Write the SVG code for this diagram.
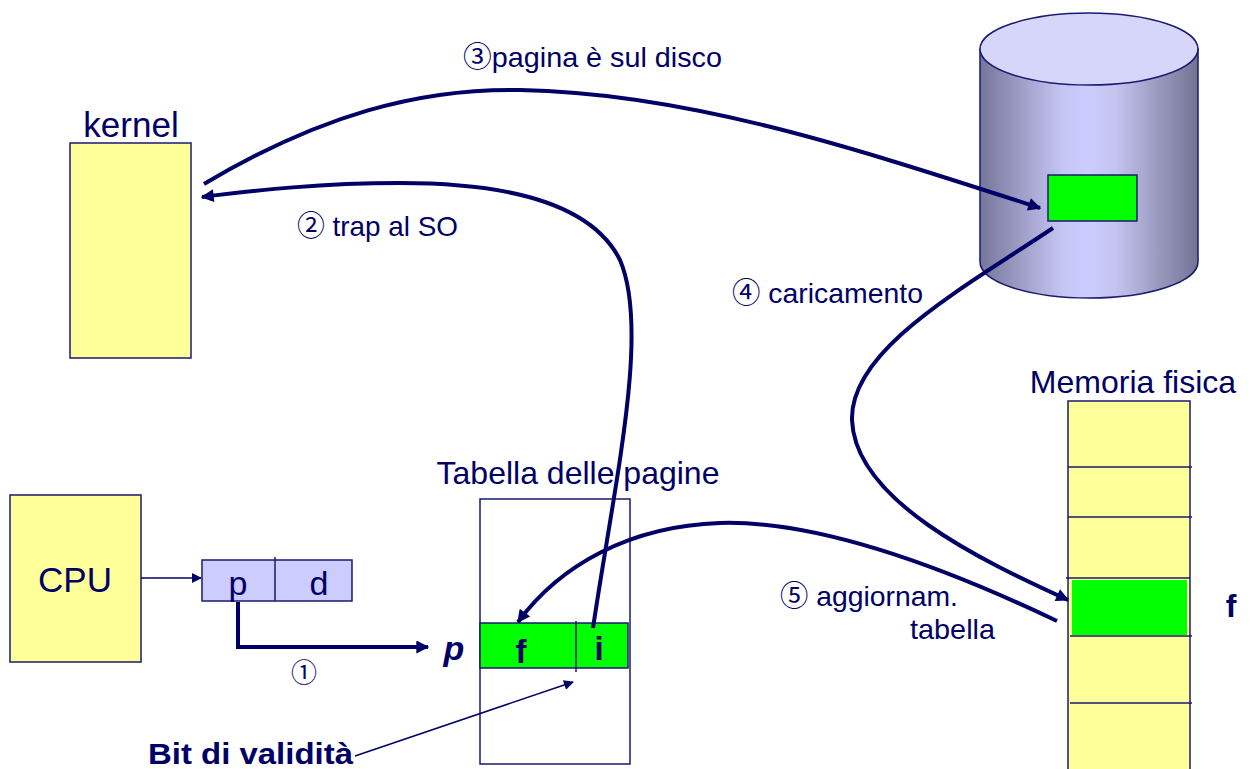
<svg xmlns="http://www.w3.org/2000/svg" width="1250" height="769" viewBox="0 0 1250 769">
<defs>
<style>
.t{font-family:"Liberation Sans",Arial,"Noto Sans CJK JP",sans-serif;fill:#000066}
.b{font-weight:bold}
.box{stroke:#1a1a70;stroke-width:1.5}
.thick{fill:none;stroke:#000066;stroke-width:4}
.thin{fill:none;stroke:#000066;stroke-width:1.5}
</style>
<linearGradient id="cyl" x1="0" y1="0" x2="1" y2="0">
<stop offset="0" stop-color="#76769a"/>
<stop offset="0.38" stop-color="#c6c6f4"/>
<stop offset="0.5" stop-color="#ccccff"/>
<stop offset="0.62" stop-color="#c4c4f0"/>
<stop offset="1" stop-color="#737393"/>
</linearGradient>
<marker id="ab" viewBox="0 0 10 10" refX="9" refY="5" markerWidth="17" markerHeight="13" markerUnits="userSpaceOnUse" orient="auto"><path d="M0,0 L10,5 L0,10 z" fill="#000066"/></marker>
<marker id="as" viewBox="0 0 10 10" refX="9" refY="5" markerWidth="13" markerHeight="10" markerUnits="userSpaceOnUse" orient="auto"><path d="M0,0 L10,5 L0,10 z" fill="#000066"/></marker>
</defs>

<g id="kernel">
<rect class="box" x="70" y="143" width="121" height="215" fill="#ffff99"/>
<text class="t" x="131" y="137" font-size="35" text-anchor="middle">kernel</text>
</g>

<g id="cpu">
<rect class="box" x="10" y="495" width="131" height="167" fill="#ffff99"/>
<text class="t" x="75" y="592" font-size="35" text-anchor="middle">CPU</text>
</g>

<g id="indirizzo">
<rect class="box" x="202" y="560" width="150" height="41" fill="#ccccff"/>
<line class="box" x1="275" y1="557" x2="275" y2="601"/>
<text class="t" x="238" y="595" font-size="34" text-anchor="middle">p</text>
<text class="t" x="319" y="595" font-size="34" text-anchor="middle">d</text>
</g>

<g id="disco">
<path d="M980,49 L980,262 A109,36 0 0 0 1198,262 L1198,49 z" fill="url(#cyl)" class="box"/>
<ellipse cx="1089" cy="49" rx="109" ry="36" fill="#d6d6fa" class="box"/>
<rect class="box" x="1048" y="175" width="89" height="46" fill="#00ff00"/>
</g>

<g id="tabella">
<text class="t" x="578" y="484" font-size="32" text-anchor="middle">Tabella delle pagine</text>
<rect class="box" x="480" y="499" width="150" height="265" fill="none"/>
<rect class="box" x="480" y="623" width="148" height="45" fill="#00ff00"/>
<line class="box" x1="576" y1="621" x2="576" y2="672"/>
<text class="t b" x="521" y="663" font-size="33" text-anchor="middle">f</text>
<text class="t b" x="599" y="660" font-size="33" text-anchor="middle">i</text>
<text class="t b" x="454" y="660" font-size="34" font-style="italic" text-anchor="middle">p</text>
</g>

<g id="memoria">
<text class="t" x="1133" y="393" font-size="32" text-anchor="middle">Memoria fisica</text>
<rect class="box" x="1068" y="401" width="122" height="380" fill="#ffff99"/>
<rect x="1072" y="580" width="115" height="55" fill="#00ff00"/>
<g class="box">
<line x1="1068" y1="467" x2="1192" y2="467"/>
<line x1="1068" y1="517" x2="1192" y2="517"/>
<line x1="1066" y1="578" x2="1190" y2="578"/>
<line x1="1070" y1="636" x2="1192" y2="636"/>
<line x1="1070" y1="703" x2="1192" y2="703"/>
</g>
<text class="t b" x="1231" y="617" font-size="32" text-anchor="middle">f</text>
</g>

<g id="connettori">
<path class="thin" d="M141,578 L201,578" marker-end="url(#as)"/>
<path class="thick" d="M238,602 L238,647 L428,647" marker-end="url(#ab)"/>
<path class="thick" d="M204,184 C320,115 420,88 520,90 C690,93 860,150 1040,208" marker-end="url(#ab)"/>
<path class="thick" d="M593,628 C615,480 650,330 620,260 C590,200 500,183 400,183 C320,183 260,190 202,197" marker-end="url(#ab)"/>
<path class="thick" d="M1053,228 C960,290 850,350 852,420 C855,500 980,560 1068,600" marker-end="url(#ab)"/>
<path class="thick" d="M1057,621 C950,570 820,520 720,523 C630,526 560,565 518,622" marker-end="url(#ab)"/>
<path class="thin" d="M355,756 L573,682" marker-end="url(#as)"/>
</g>

<g id="etichette">
<text class="t" x="463" y="67" font-size="28" textLength="259" lengthAdjust="spacingAndGlyphs">③pagina è sul disco</text>
<text class="t" x="297" y="236" font-size="28" textLength="161" lengthAdjust="spacingAndGlyphs">② trap al SO</text>
<text class="t" x="732" y="303" font-size="28" textLength="191" lengthAdjust="spacingAndGlyphs">④ caricamento</text>
<text class="t" x="780" y="606" font-size="28" textLength="178" lengthAdjust="spacingAndGlyphs">⑤ aggiornam.</text>
<text class="t" x="910" y="639" font-size="28" textLength="85" lengthAdjust="spacingAndGlyphs">tabella</text>
<text class="t" x="304" y="682" font-size="26" text-anchor="middle">①</text>
<text class="t b" x="148" y="764" font-size="29" textLength="205" lengthAdjust="spacingAndGlyphs">Bit di validità</text>
</g>
</svg>
